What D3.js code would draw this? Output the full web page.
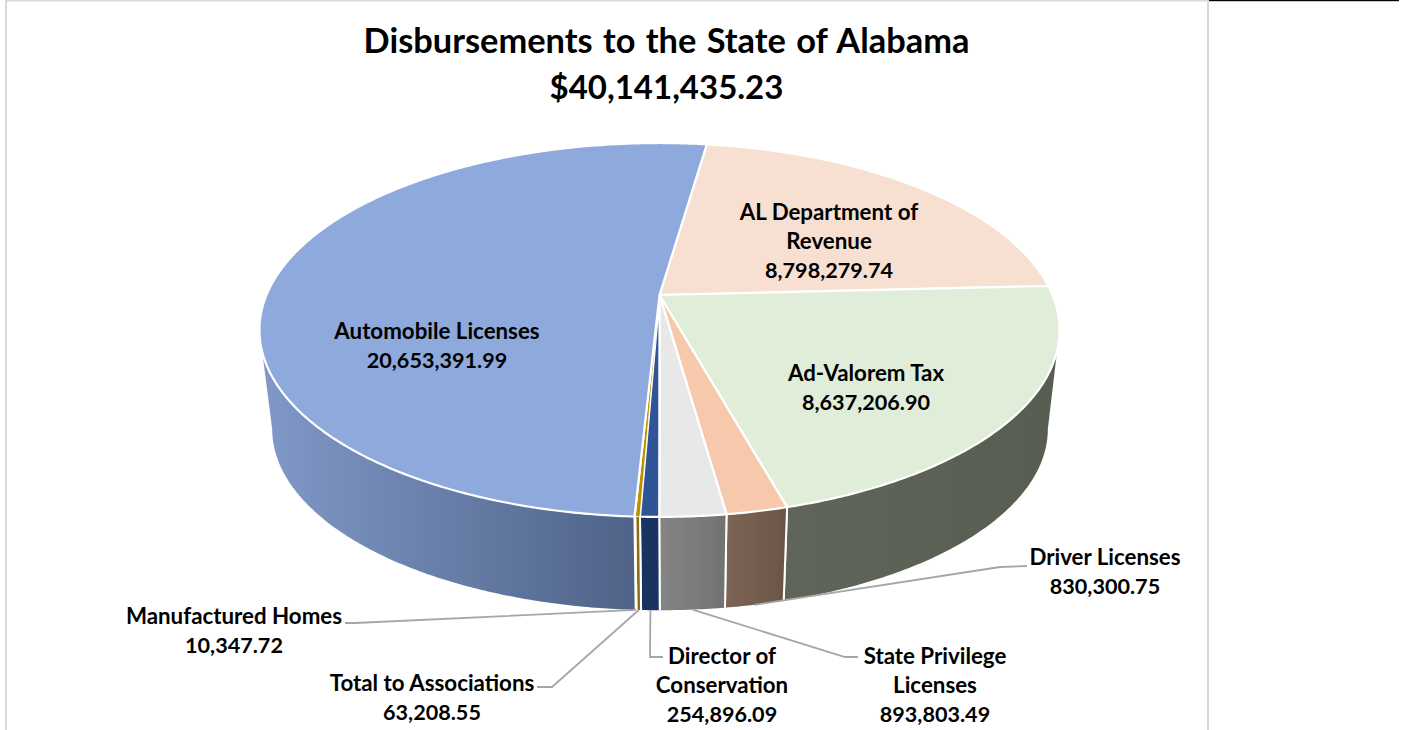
<!DOCTYPE html>
<html><head><meta charset="utf-8">
<style>html,body{margin:0;padding:0;background:#fff;overflow:hidden}svg{display:block}text{font-family:Lato,"Open Sans",sans-serif;font-weight:700;fill:#000}</style>
<script src="https://cdn.jsdelivr.net/npm/d3@7/dist/d3.min.js"></script>
</head><body><svg id="c" width="1412" height="730"></svg>
<script>
const categories=["AL Department of Revenue","Ad-Valorem Tax","Driver Licenses","State Privilege Licenses","Director of Conservation","Total to Associations","Manufactured Homes","Automobile Licenses"];
const values=[8798279.74,8637206.90,830300.75,893803.49,254896.09,63208.55,10347.72,20653391.99];
const valueLabels=["8,798,279.74","8,637,206.90","830,300.75","893,803.49","254,896.09","63,208.55","10,347.72","20,653,391.99"];
const labelLines=[["AL Department of","Revenue"],["Ad-Valorem Tax"],["Driver Licenses"],["State Privilege","Licenses"],["Director of","Conservation"],["Total to Associations"],["Manufactured Homes"],["Automobile Licenses"]];
const titleLines=["Disbursements to the State of Alabama","$40,141,435.23"];

const topColors=["#F7E0D2","#E0EDD8","#F6C9AC","#E8E8E8","#2F5597","#BF9000","#C9C9C9","#8EA9DB"];
const wallColors=[["#6b6055","#6b6055"],["#5F6558","#585D52"],["#7E6656","#695446"],["#858585","#727272"],["#1B3360","#1B3360"],["#8F6C10","#8F6C10"],["#8a8a8a","#8a8a8a"],["#8199C8","#4F6388"]];
const labelPos=[[829,213],[866,374],[1105,558],[935,657],[722,657],[432,684],[234,617],[437,332]];
const elbows=[null,null,[[1000,567],[1027,566]],[[845,657],[858,657]],[[650,657],[663,657]],[[552,687],[537,687]],[[355,623],[345,623]],null];

const svg=d3.select("#c");
// frame
svg.append("rect").attr("x",5).attr("y",0).attr("width",2).attr("height",730).attr("fill","#D9D9D9");
svg.append("rect").attr("x",5).attr("y",0).attr("width",1203).attr("height",1.5).attr("fill","#D9D9D9");
svg.append("rect").attr("x",1207).attr("y",0).attr("width",2).attr("height",730).attr("fill","#D9D9D9");
svg.append("rect").attr("x",1209).attr("y",0).attr("width",190).attr("height",1.2).attr("fill","#000");

// perspective tilt of the disc
const k=0.187;
const rimTop={cx:659.5,y0:295,A:180.4,B:393};
const rimBot={cx:660,y0:395,A:175,B:381};
const project=(a,r)=>{const u=Math.sin(a),v=Math.cos(a),w=1+k*v;return [r.cx+r.B*u/w,r.y0-r.A*v/w];};
const deg=Math.PI/180;
const start=8.2*deg;
const arcs=d3.pie().sort(null).value(d=>d).startAngle(start).endAngle(start+2*Math.PI)(values);
const line=d3.line();
const samples=(a0,a1)=>{const n=Math.max(2,Math.ceil((a1-a0)/(0.5*deg)));return d3.range(n+1).map(i=>a0+(a1-a0)*i/n);};

const defs=svg.append("defs");
// walls: visible between the two silhouette tangents of the projected disc
const frontMin=Math.acos(-k),frontMax=2*Math.PI-Math.acos(-k);
arcs.forEach((d,i)=>{
  const a0=Math.max(d.startAngle,frontMin),a1=Math.min(d.endAngle,frontMax);
  if(a1<=a0)return;
  const as=samples(a0,a1);
  const pts=as.map(a=>project(a,rimTop)).concat(as.slice().reverse().map(a=>project(a,rimBot)));
  const xs=pts.map(p=>p[0]);
  const g=defs.append("linearGradient").attr("id","w"+i).attr("gradientUnits","userSpaceOnUse")
    .attr("x1",d3.min(xs)).attr("x2",d3.max(xs)).attr("y1",0).attr("y2",0);
  g.append("stop").attr("offset",0).attr("stop-color",wallColors[i][0]);
  g.append("stop").attr("offset",1).attr("stop-color",wallColors[i][1]);
  svg.append("path").attr("d",line(pts)+"Z").attr("fill",`url(#w${i})`);
  [a0,a1].forEach(a=>{ if(a===frontMin||a===frontMax)return;
    svg.append("path").attr("d",line([project(a,rimTop),project(a,rimBot)])).attr("stroke","#fff").attr("stroke-width",2).attr("fill","none");
  });
});
// top faces
const apex=[rimTop.cx,rimTop.y0];
arcs.forEach((d,i)=>{
  const pts=[apex].concat(samples(d.startAngle,d.endAngle).map(a=>project(a,rimTop)));
  svg.append("path").attr("d",line(pts)+"Z").attr("fill",topColors[i]).attr("stroke","#fff").attr("stroke-width",i===5||i===6?0.8:2.2).attr("stroke-linejoin","round");
});
// leaders
arcs.forEach((d,i)=>{
  if(!elbows[i])return;
  const s=project((d.startAngle+d.endAngle)/2,rimBot);
  svg.append("path").attr("d",line([s].concat(elbows[i]))).attr("fill","none").attr("stroke","#A6A6A6").attr("stroke-width",1.8);
});
// labels
const lh=29;
categories.forEach((c,i)=>{
  const t=svg.append("text").attr("text-anchor","middle");
  const lines=labelLines[i];
  lines.concat([valueLabels[i]]).forEach((s,j)=>{
    t.append("tspan").attr("x",labelPos[i][0]).attr("y",labelPos[i][1]+7+j*lh)
      .attr("font-size",j<lines.length?22.3:21.6).text(s);
  });
});
// title
titleLines.forEach((s,j)=>{
  svg.append("text").attr("x",666.5).attr("y",53+j*46).attr("text-anchor","middle").attr("font-size",j===0?34.4:33).style("word-spacing",j===0?"2px":"0").text(s);
});
</script></body></html>
